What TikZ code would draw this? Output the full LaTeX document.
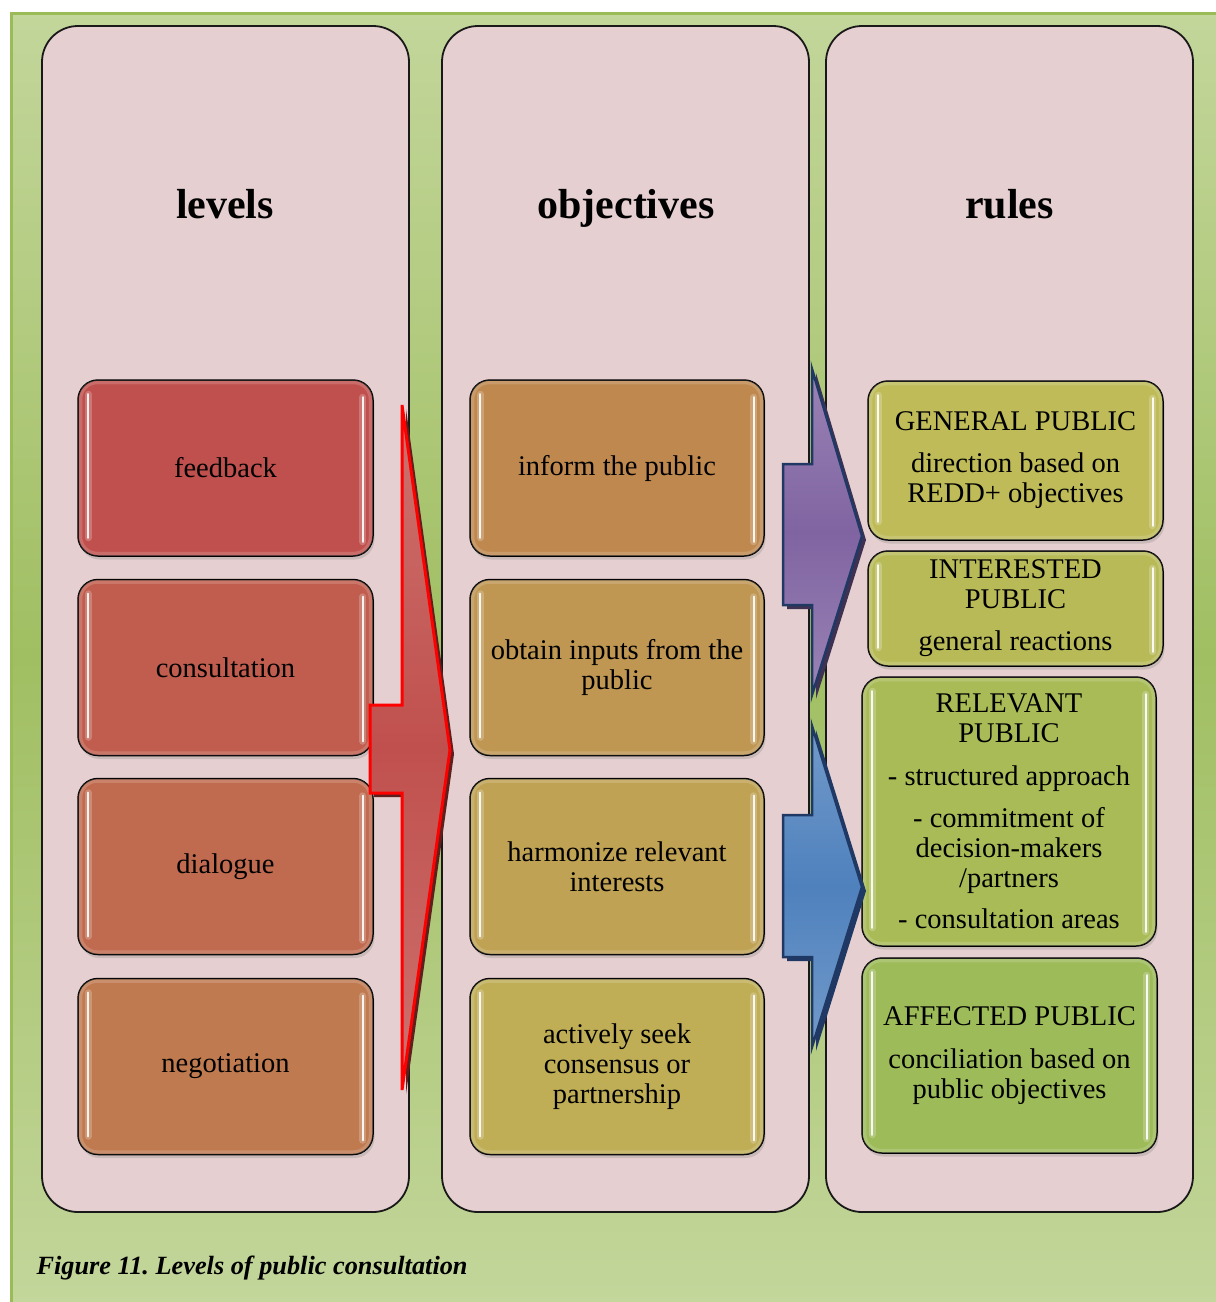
\documentclass[tikz,border=0pt]{standalone}
\usepackage{fontspec}
\setmainfont{Liberation Serif}
\usetikzlibrary{calc,shadows}

\definecolor{bgL}{HTML}{C3D69B}
\definecolor{bgD}{HTML}{A0BF62}
\definecolor{frameedge}{HTML}{9BBB59}
\definecolor{colpink}{HTML}{E6CFD0}
\definecolor{lvA}{HTML}{C0504D}
\definecolor{lvB}{HTML}{C05D4E}
\definecolor{lvC}{HTML}{C06B4F}
\definecolor{lvD}{HTML}{C07A50}
\definecolor{obA}{HTML}{BF884F}
\definecolor{obB}{HTML}{BF9652}
\definecolor{obC}{HTML}{BFA254}
\definecolor{obD}{HTML}{BFAE56}
\definecolor{ruA}{HTML}{BEBB58}
\definecolor{ruB}{HTML}{B8BA58}
\definecolor{ruC}{HTML}{A9BB57}
\definecolor{ruD}{HTML}{9DBB59}
\definecolor{redL}{HTML}{DA9694}
\definecolor{redD}{HTML}{C0504D}
\definecolor{redS}{HTML}{5E1F1D}
\definecolor{purL}{HTML}{B3A2C7}
\definecolor{purD}{HTML}{8064A2}
\definecolor{purS}{HTML}{3F3151}
\definecolor{bluL}{HTML}{95B3D7}
\definecolor{bluD}{HTML}{4F81BD}
\definecolor{bluS}{HTML}{1F3864}
\definecolor{navy}{HTML}{1F3864}

\pgfdeclareverticalshading{redfade}{100bp}{color(0bp)=(redL); color(50bp)=(redD); color(100bp)=(redL)}
\pgfdeclareverticalshading{purfade}{100bp}{color(0bp)=(purL); color(50bp)=(purD); color(100bp)=(purL)}
\pgfdeclareverticalshading{blufade}{100bp}{color(0bp)=(bluL); color(50bp)=(bluD); color(100bp)=(bluL)}

\begin{document}
\begin{tikzpicture}[x=1pt,y=-1pt,
  column/.style={draw=black!90, line width=1.8, fill=colpink, rounded corners=36, inner sep=0},
  title/.style={anchor=base, font=\fontsize{42}{46}\selectfont\bfseries},
  box/.style={draw=black, line width=1.5, rounded corners=20, inner sep=0, align=center,
    font=\fontsize{28.5}{30}\selectfont,
    drop shadow={shadow xshift=1.5pt, shadow yshift=-3.5pt, opacity=.28}},
  glow/.style={white, line width=7, opacity=.22, line cap=round},
  gloss/.style={white, line width=2.2, opacity=.9, line cap=round},
  rim/.style={white, line width=4, opacity=.16, rounded corners=17},
]
\useasboundingbox (0,0) rectangle (1216,1302);
\fill[white] (0,0) rectangle (1216,1302);

% green frame with a vertical fade
\shade[top color=bgL, bottom color=bgD] (10,12) rectangle (1216,657);
\shade[top color=bgD, bottom color=bgL] (10,656) rectangle (1216,1302);
\draw[frameedge, line width=3] (11.5,1302) -- (11.5,13.5) -- (1216,13.5);

% three columns
\node[column, minimum width=367, minimum height=1186] (colA) at (225.5,619) {};
\node[column, minimum width=367, minimum height=1186] (colB) at (625.5,619) {};
\node[column, minimum width=367, minimum height=1186] (colC) at (1009.5,619) {};

\node[title] (tA) at (225,218) {levels};
\node[title] (tB) at (626,218) {objectives};
\node[title] (tC) at (1009.5,218) {rules};

% levels
\node[box, fill=lvA, minimum width=295, minimum height=176] (lA) at (225.5,468) {feedback};
\node[box, fill=lvB, minimum width=295, minimum height=176] (lB) at (225.5,667.5) {consultation};
\node[box, fill=lvC, minimum width=295, minimum height=176] (lC) at (225.5,866.5) {dialogue};
\node[box, fill=lvD, minimum width=295, minimum height=176] (lD) at (225.5,1066.5) {negotiation};

% objectives
\node[box, fill=obA, minimum width=294, minimum height=176] (oA) at (617,468) {inform the public};
\node[box, fill=obB, minimum width=294, minimum height=176] (oB) at (617,667.5) {obtain inputs from the\\public};
\node[box, fill=obC, minimum width=294, minimum height=176] (oC) at (617,866.5) {harmonize relevant\\interests};
\node[box, fill=obD, minimum width=294, minimum height=176] (oD) at (617,1066.5) {actively seek\\consensus or\\partnership};

% rules
\node[box, fill=ruA, minimum width=295, minimum height=159] (rA) at (1015.5,460.5)
  {GENERAL PUBLIC\\[12pt]direction based on\\REDD+ objectives};
\node[box, fill=ruB, minimum width=295, minimum height=115] (rB) at (1015.5,608.5)
  {INTERESTED\\PUBLIC\\[12pt]general reactions};
\node[box, fill=ruC, minimum width=294, minimum height=269] (rC) at (1009,811.5)
  {RELEVANT\\PUBLIC\\[13pt]- structured approach\\[12pt]- commitment of\\decision-makers\\/partners\\[11pt]- consultation areas};
\node[box, fill=ruD, minimum width=295, minimum height=195] (rD) at (1009.5,1055.5)
  {AFFECTED PUBLIC\\[13pt]conciliation based on\\public objectives};

% glossy rims and highlights on every box
\foreach \n in {lA,lB,lC,lD,oA,oB,oC,oD,rA,rB,rC,rD} {
  \draw[rim] ($(\n.north west)+(3,3)$) rectangle ($(\n.south east)+(-3,-3)$);
  \draw[glow] ($(\n.north west)+(11,15)$) -- ($(\n.south west)+(11,-19)$);
  \draw[gloss] ($(\n.north west)+(11,15)$) -- ($(\n.south west)+(11,-19)$);
  \draw[glow] ($(\n.north east)+(-11,18)$) -- ($(\n.south east)+(-11,-15)$);
  \draw[gloss] ($(\n.north east)+(-11,18)$) -- ($(\n.south east)+(-11,-15)$);
}

% red arrow from the levels
\fill[redS, shift={(4,4)}] (402,405) -- (450,750) -- (402,1090) -- (402,793) -- (370,793) -- (370,705) -- (402,705) -- cycle;
\path[shading=redfade] (402,405) -- (450,750) -- (402,1090) -- (402,793) -- (370,793) -- (370,705) -- (402,705) -- cycle;
\draw[red, line width=3, line join=miter] (402,405) -- (450,750) -- (402,1090) -- (402,793) -- (370,793) -- (370,705) -- (402,705) -- cycle;

% purple arrow to the upper rules
\fill[purS, shift={(4,4)}] (812,369) -- (862,536) -- (812,695) -- (812,605) -- (783,605) -- (783,464) -- (812,464) -- cycle;
\path[shading=purfade] (812,369) -- (862,536) -- (812,695) -- (812,605) -- (783,605) -- (783,464) -- (812,464) -- cycle;
\draw[navy, line width=2.5, line join=miter] (812,369) -- (862,536) -- (812,695) -- (812,605) -- (783,605) -- (783,464) -- (812,464) -- cycle;

% blue arrow to the lower rules
\fill[bluS, shift={(4,4)}] (812,726) -- (862,887) -- (812,1047) -- (812,957) -- (783,957) -- (783,815) -- (812,815) -- cycle;
\path[shading=blufade] (812,726) -- (862,887) -- (812,1047) -- (812,957) -- (783,957) -- (783,815) -- (812,815) -- cycle;
\draw[navy, line width=2.5, line join=miter] (812,726) -- (862,887) -- (812,1047) -- (812,957) -- (783,957) -- (783,815) -- (812,815) -- cycle;

% caption
\node[anchor=base west, font=\fontsize{26.3}{30}\selectfont\bfseries\itshape] (cap) at (33,1274)
  {Figure 11.\ Levels of public consultation};
\end{tikzpicture}
\end{document}
